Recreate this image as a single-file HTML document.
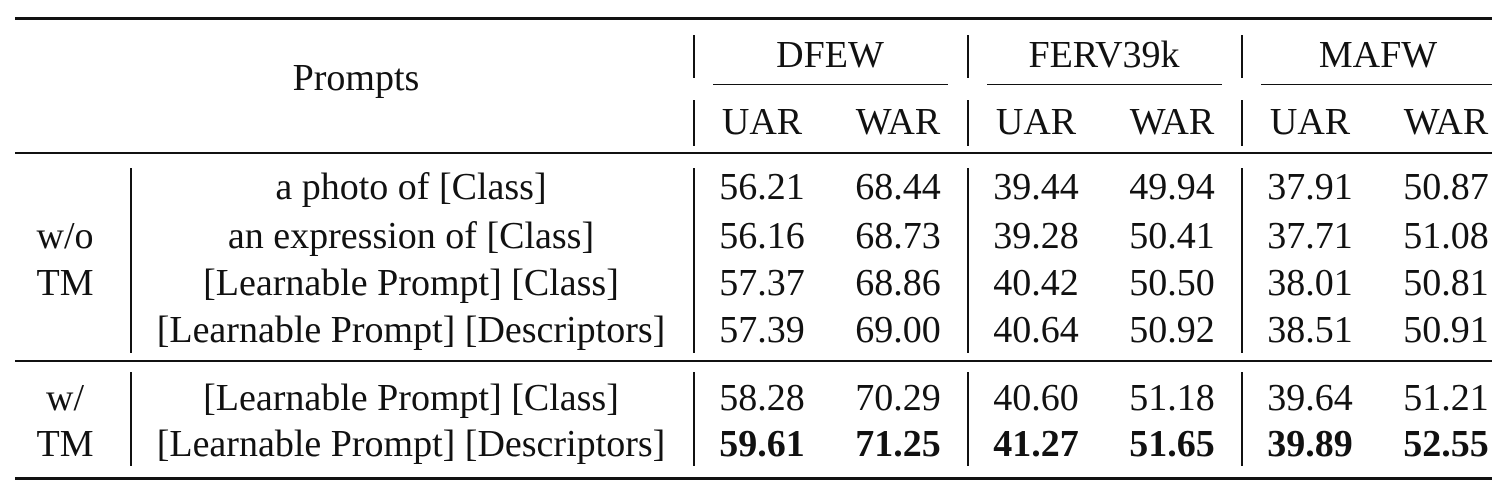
<!DOCTYPE html>
<html><head><meta charset="utf-8"><style>
body{margin:0;background:#fff;width:1502px;height:490px;position:relative;overflow:hidden;font-family:"Liberation Serif",serif;font-size:38px;color:#111}
.t{position:absolute;transform:translate(-50%,-50%);white-space:nowrap;line-height:1}
.h{position:absolute;background:#111}
.b{font-weight:bold}
</style></head><body>
<div class="h" style="left:15px;top:17px;width:1477px;height:3px"></div>
<div class="h" style="left:15px;top:152px;width:1477px;height:2px"></div>
<div class="h" style="left:15px;top:360px;width:1477px;height:2px"></div>
<div class="h" style="left:15px;top:477px;width:1477px;height:3px"></div>
<div class="h" style="left:713px;top:84px;width:235px;height:1px"></div>
<div class="h" style="left:987px;top:84px;width:235px;height:1px"></div>
<div class="h" style="left:1261px;top:84px;width:231px;height:1px"></div>
<div id="vl"></div>
<div class="t" style="left:356px;top:78px">Prompts</div>
<div class="t" style="left:830px;top:55px">DFEW</div>
<div class="t" style="left:1104px;top:55px">FERV39k</div>
<div class="t" style="left:1378px;top:55px">MAFW</div>
<div id="cells"></div>
<script>
const colX=[762,898,1036,1172,1310,1446];
const rowY=[187,236,283,330,398,444];
const metrics=["UAR","WAR","UAR","WAR","UAR","WAR"];
const prompts=["a photo of [Class]","an expression of [Class]","[Learnable Prompt] [Class]","[Learnable Prompt] [Descriptors]","[Learnable Prompt] [Class]","[Learnable Prompt] [Descriptors]"];
const values=[
["56.21","68.44","39.44","49.94","37.91","50.87"],
["56.16","68.73","39.28","50.41","37.71","51.08"],
["57.37","68.86","40.42","50.50","38.01","50.81"],
["57.39","69.00","40.64","50.92","38.51","50.91"],
["58.28","70.29","40.60","51.18","39.64","51.21"],
["59.61","71.25","41.27","51.65","39.89","52.55"]];
const boldRow=5;
const c=document.getElementById('cells');
function add(txt,x,y,cls,name){const d=document.createElement('div');d.className='t '+(cls||'');d.textContent=txt;d.style.left=x+'px';d.style.top=y+'px';


c.appendChild(d);}
metrics.forEach((m,i)=>add(m,colX[i],122,'', 'metric-header'));
prompts.forEach((p,i)=>add(p,411,rowY[i],'','prompt-label'));
values.forEach((r,i)=>r.forEach((v,j)=>add(v,colX[j],rowY[i],i===boldRow?'b':'','value-cell')));
add('w/o',65,236,'','group-label');add('TM',65,283,'','group-label');
add('w/',65,398,'','group-label');add('TM',65,444,'','group-label');
const vl=document.getElementById('vl');
function v(x,y1,y2){const d=document.createElement('div');d.className='h';d.style.left=x+'px';d.style.top=y1+'px';d.style.width='1.5px';d.style.height=(y2-y1)+'px';


vl.appendChild(d);}
[693,967,1241].forEach(x=>{v(x,35,78);v(x,100,146);v(x,168,353);v(x,372,466);});
v(130,168,353);v(130,372,466);
</script>
</body></html>
